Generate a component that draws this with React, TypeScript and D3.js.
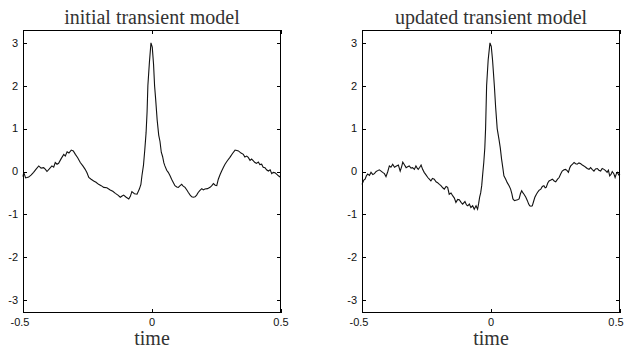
import React from "react";
import * as d3 from "d3";

const titles = ["initial transient model", "updated transient model"];
const xTicks = [-0.5, 0, 0.5];
const yTicks = [-3, -2, -1, 0, 1, 2, 3];
const xLabel = "time";

const initialModel: [number, number][] = [
  [-0.500, -0.12], [-0.497, -0.02], [-0.490, -0.15], [-0.478, -0.13], [-0.468, -0.08],
  [-0.459, -0.02], [-0.450, 0.05], [-0.439, 0.13], [-0.430, 0.08], [-0.420, 0.09],
  [-0.413, 0.05], [-0.407, 0.00], [-0.398, 0.06], [-0.388, 0.13], [-0.381, 0.10],
  [-0.375, 0.21], [-0.368, 0.17], [-0.362, 0.19], [-0.352, 0.30], [-0.342, 0.40],
  [-0.336, 0.36], [-0.329, 0.46], [-0.322, 0.43], [-0.313, 0.50], [-0.305, 0.48],
  [-0.297, 0.40], [-0.288, 0.32], [-0.278, 0.21], [-0.268, 0.13], [-0.259, 0.05],
  [-0.252, -0.03], [-0.245, -0.14], [-0.236, -0.18], [-0.226, -0.22], [-0.217, -0.25],
  [-0.207, -0.30], [-0.197, -0.33], [-0.187, -0.37], [-0.175, -0.38], [-0.162, -0.43],
  [-0.152, -0.46], [-0.142, -0.51], [-0.132, -0.55], [-0.123, -0.60], [-0.116, -0.57],
  [-0.110, -0.55], [-0.100, -0.60], [-0.090, -0.64], [-0.084, -0.58], [-0.078, -0.47],
  [-0.068, -0.52], [-0.058, -0.53], [-0.049, -0.41], [-0.043, -0.30], [-0.039, -0.10],
  [-0.033, 0.15], [-0.028, 0.50], [-0.023, 0.90], [-0.019, 1.40], [-0.016, 2.00],
  [-0.010, 2.55], [-0.004, 3.00], [0.001, 2.90], [0.006, 2.50], [0.010, 2.00],
  [0.014, 1.70], [0.020, 1.20], [0.026, 0.85], [0.031, 0.70], [0.036, 0.45],
  [0.041, 0.35], [0.046, 0.20], [0.050, 0.13], [0.057, 0.03], [0.063, -0.02],
  [0.070, -0.10], [0.076, -0.18], [0.082, -0.25], [0.089, -0.33], [0.096, -0.36],
  [0.102, -0.37], [0.109, -0.33], [0.115, -0.30], [0.121, -0.34], [0.128, -0.37],
  [0.135, -0.43], [0.141, -0.49], [0.148, -0.55], [0.154, -0.59], [0.160, -0.60],
  [0.167, -0.59], [0.173, -0.55], [0.179, -0.49], [0.186, -0.44], [0.193, -0.40],
  [0.199, -0.43], [0.205, -0.41], [0.215, -0.40], [0.225, -0.37], [0.232, -0.33],
  [0.238, -0.28], [0.245, -0.32], [0.251, -0.33], [0.257, -0.18], [0.264, -0.07],
  [0.270, 0.01], [0.277, 0.10], [0.283, 0.17], [0.292, 0.25], [0.302, 0.33],
  [0.312, 0.42], [0.322, 0.50], [0.329, 0.49], [0.335, 0.48], [0.345, 0.43],
  [0.354, 0.40], [0.360, 0.34], [0.367, 0.36], [0.373, 0.33], [0.380, 0.26],
  [0.386, 0.29], [0.393, 0.25], [0.399, 0.21], [0.405, 0.19], [0.412, 0.22],
  [0.418, 0.16], [0.425, 0.17], [0.431, 0.10], [0.438, 0.09], [0.444, 0.04],
  [0.451, 0.01], [0.458, 0.04], [0.464, -0.05], [0.470, -0.02], [0.477, -0.03],
  [0.483, -0.06], [0.490, -0.10], [0.499, -0.14],
];

const updatedModel: [number, number][] = [
  [-0.500, -0.30], [-0.497, -0.26], [-0.493, -0.20], [-0.488, -0.18], [-0.483, -0.10],
  [-0.478, -0.06], [-0.471, -0.09], [-0.465, -0.02], [-0.458, -0.07], [-0.452, -0.05],
  [-0.445, 0.00], [-0.439, 0.02], [-0.433, 0.04], [-0.426, 0.01], [-0.420, -0.02],
  [-0.413, -0.05], [-0.407, -0.12], [-0.400, 0.00], [-0.394, 0.13], [-0.388, 0.10],
  [-0.381, 0.17], [-0.374, 0.10], [-0.368, 0.12], [-0.359, 0.15], [-0.352, 0.01],
  [-0.346, 0.12], [-0.342, 0.22], [-0.335, 0.15], [-0.329, 0.09], [-0.323, 0.11],
  [-0.317, 0.13], [-0.310, 0.08], [-0.304, 0.09], [-0.297, 0.05], [-0.291, 0.13],
  [-0.286, 0.08], [-0.282, 0.05], [-0.276, 0.10], [-0.271, 0.15], [-0.265, 0.05],
  [-0.259, -0.02], [-0.252, -0.08], [-0.245, -0.14], [-0.239, -0.18], [-0.233, -0.22],
  [-0.227, -0.16], [-0.220, -0.18], [-0.213, -0.24], [-0.207, -0.26], [-0.200, -0.30],
  [-0.194, -0.33], [-0.187, -0.38], [-0.181, -0.41], [-0.174, -0.35], [-0.168, -0.37],
  [-0.162, -0.53], [-0.155, -0.50], [-0.148, -0.57], [-0.142, -0.62], [-0.136, -0.72],
  [-0.129, -0.65], [-0.123, -0.66], [-0.116, -0.72], [-0.110, -0.76], [-0.101, -0.70],
  [-0.095, -0.78], [-0.090, -0.80], [-0.084, -0.76], [-0.078, -0.84], [-0.071, -0.80],
  [-0.065, -0.88], [-0.058, -0.80], [-0.052, -0.88], [-0.048, -0.75], [-0.044, -0.60],
  [-0.040, -0.50], [-0.036, -0.33], [-0.032, -0.05], [-0.028, 0.21], [-0.024, 0.55],
  [-0.021, 1.00], [-0.017, 2.00], [-0.011, 2.60], [-0.004, 3.00], [0.001, 2.92],
  [0.006, 2.60], [0.013, 2.00], [0.018, 1.50], [0.024, 1.00], [0.031, 0.75],
  [0.036, 0.55], [0.041, 0.29], [0.046, 0.08], [0.050, -0.10], [0.057, -0.18],
  [0.063, -0.26], [0.070, -0.33], [0.076, -0.41], [0.081, -0.52], [0.085, -0.64],
  [0.091, -0.68], [0.096, -0.67], [0.103, -0.66], [0.109, -0.64], [0.114, -0.52],
  [0.119, -0.45], [0.124, -0.50], [0.128, -0.53], [0.135, -0.60], [0.141, -0.68],
  [0.146, -0.76], [0.150, -0.80], [0.155, -0.81], [0.160, -0.80], [0.165, -0.70],
  [0.170, -0.60], [0.175, -0.54], [0.180, -0.49], [0.186, -0.44], [0.193, -0.41],
  [0.199, -0.35], [0.205, -0.33], [0.210, -0.38], [0.214, -0.37], [0.220, -0.27],
  [0.225, -0.22], [0.232, -0.20], [0.238, -0.18], [0.245, -0.22], [0.251, -0.24],
  [0.258, -0.18], [0.264, -0.14], [0.270, -0.06], [0.276, 0.01], [0.283, 0.04],
  [0.289, 0.05], [0.295, 0.02], [0.300, -0.02], [0.305, 0.08], [0.309, 0.13],
  [0.316, 0.17], [0.322, 0.21], [0.328, 0.18], [0.334, 0.17], [0.341, 0.20],
  [0.348, 0.18], [0.354, 0.15], [0.360, 0.13], [0.367, 0.10], [0.373, 0.07],
  [0.380, 0.05], [0.386, 0.09], [0.392, 0.05], [0.399, 0.01], [0.405, 0.06],
  [0.412, 0.07], [0.418, 0.03], [0.425, 0.01], [0.431, 0.07], [0.438, 0.05],
  [0.444, 0.02], [0.450, -0.02], [0.455, 0.03], [0.460, -0.10], [0.465, -0.07],
  [0.470, 0.00], [0.476, -0.05], [0.481, -0.14], [0.486, -0.05], [0.490, -0.02],
  [0.495, -0.08], [0.500, -0.06],
];

const panels = [
  { title: titles[0], data: initialModel, left: 23 },
  { title: titles[1], data: updatedModel, left: 362 },
];

const W = 625;
const H = 349;
const panelW = 258;
const top = 30;
const bottom = 313;

function Panel({ title, data, left }: { title: string; data: [number, number][]; left: number }) {
  const x = d3.scaleLinear().domain([-0.5, 0.5]).range([left, left + panelW]);
  const y = d3.scaleLinear().domain([-3.3, 3.3]).range([bottom, top]);
  const line = d3
    .line<[number, number]>()
    .x((d) => x(d[0]))
    .y((d) => y(d[1]));
  const tickLen = 4;
  return (
    <g>
      <text
        x={x(0)}
        y={23.5}
        textAnchor="middle"
        fontFamily="'Liberation Serif', 'DejaVu Serif', serif"
        fontSize={20}
        fill="#333"
      >
        {title}
      </text>
      <path d={line(data) || ""} fill="none" stroke="#111" strokeWidth={1.1} />
      <rect
        x={left + 0.5}
        y={top + 0.5}
        width={panelW - 1}
        height={bottom - top - 1}
        fill="none"
        stroke="#000"
        strokeWidth={1}
      />
      {yTicks.map((t) => (
        <g key={"y" + t}>
          <line x1={left} x2={left + tickLen} y1={Math.round(y(t)) + 0.5} y2={Math.round(y(t)) + 0.5} stroke="#000" />
          <line x1={left + panelW - tickLen} x2={left + panelW} y1={Math.round(y(t)) + 0.5} y2={Math.round(y(t)) + 0.5} stroke="#000" />
          <text
            x={left - 5}
            y={y(t)}
            dy="0.35em"
            textAnchor="end"
            fontFamily="'Liberation Sans', Arial, sans-serif"
            fontSize={11}
            fill="#111"
          >
            {t}
          </text>
        </g>
      ))}
      {xTicks.map((t) => (
        <g key={"x" + t}>
          <line x1={Math.round(x(t)) + 0.5} x2={Math.round(x(t)) + 0.5} y1={bottom} y2={bottom - tickLen} stroke="#000" />
          <line x1={Math.round(x(t)) + 0.5} x2={Math.round(x(t)) + 0.5} y1={top} y2={top + tickLen} stroke="#000" />
          <text
            x={Math.min(x(t) - (t < 0 ? 3 : 0), W - 9)}
            y={326}
            textAnchor="middle"
            fontFamily="'Liberation Sans', Arial, sans-serif"
            fontSize={11}
            fill="#111"
          >
            {t}
          </text>
        </g>
      ))}
      <text
        x={x(0)}
        y={345}
        textAnchor="middle"
        fontFamily="'Liberation Serif', 'DejaVu Serif', serif"
        fontSize={20}
        fill="#333"
      >
        {xLabel}
      </text>
    </g>
  );
}

export default function App() {
  return (
    <svg
      width={W}
      height={H}
      style={{ position: "absolute", left: 0, top: 0, background: "#fff" }}
    >
      {panels.map((p) => (
        <Panel key={p.title} title={p.title} data={p.data} left={p.left} />
      ))}
    </svg>
  );
}
